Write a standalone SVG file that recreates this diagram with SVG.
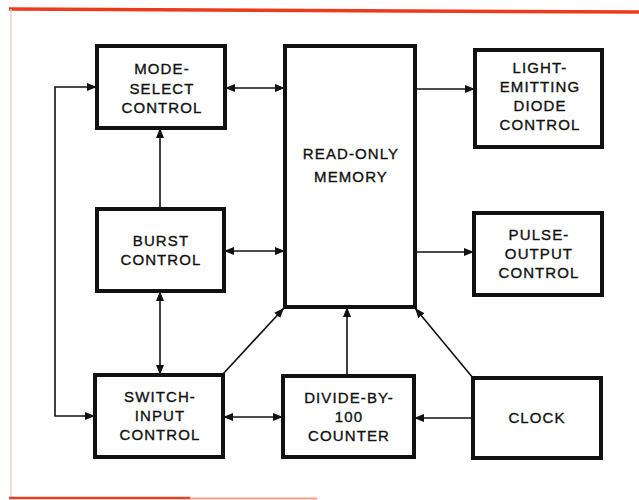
<svg xmlns="http://www.w3.org/2000/svg" width="639" height="500" viewBox="0 0 639 500">
<defs>
<marker id="ah" viewBox="0 0 10 10" refX="10" refY="5" markerWidth="10" markerHeight="10" markerUnits="userSpaceOnUse" orient="auto-start-reverse">
<path d="M0,1 L10,5 L0,9 z" fill="#111"/>
</marker>
<style>
.box{fill:#fff;stroke:#111;stroke-width:4}
.t{font-family:"Liberation Sans",Arial,sans-serif;font-size:15px;letter-spacing:1.1px;fill:#111;stroke:#111;stroke-width:0.35;text-anchor:middle}
.c{fill:none;stroke:#111;stroke-width:1.6}
</style>
</defs>
<rect width="639" height="500" fill="#fff"/>
<g id="frame">
<path d="M9,9 L639,12" stroke="#ec3a1c" stroke-width="3.5" fill="none"/>
<path d="M11,9 L11,498" stroke="#efc9b4" stroke-width="1.3" fill="none"/>
<path d="M9,498 L190,498" stroke="#e8431f" stroke-width="2.5" fill="none"/>
<path d="M190,498.5 L317,498.5" stroke="#f3a08a" stroke-width="2" fill="none"/>
</g>
<g id="connectors">
<path class="c" d="M225,88 L285,88" marker-start="url(#ah)" marker-end="url(#ah)"/>
<path class="c" d="M95,416 L55,416 L55,87 L97,87" marker-start="url(#ah)" marker-end="url(#ah)"/>
<path class="c" d="M160,209 L160,128" marker-end="url(#ah)"/>
<path class="c" d="M160,291 L160,375" marker-start="url(#ah)" marker-end="url(#ah)"/>
<path class="c" d="M224,251 L285,251" marker-start="url(#ah)" marker-end="url(#ah)"/>
<path class="c" d="M223,374 L284,308" marker-end="url(#ah)"/>
<path class="c" d="M223,417 L283,417" marker-start="url(#ah)" marker-end="url(#ah)"/>
<path class="c" d="M347,376 L347,307" marker-end="url(#ah)"/>
<path class="c" d="M473,378 L415,308" marker-end="url(#ah)"/>
<path class="c" d="M473,418 L414,418" marker-end="url(#ah)"/>
<path class="c" d="M415,89 L475,89" marker-end="url(#ah)"/>
<path class="c" d="M415,252 L474,252" marker-end="url(#ah)"/>
</g>
<g id="mode-select">
<rect class="box" x="97" y="46" width="128" height="82"/>
<text class="t" x="162" y="74">MODE-</text>
<text class="t" x="162" y="94">SELECT</text>
<text class="t" x="162" y="113">CONTROL</text>
</g>
<g id="rom">
<rect class="box" x="285" y="46" width="130" height="261"/>
<text class="t" x="351" y="159">READ-ONLY</text>
<text class="t" x="351" y="182">MEMORY</text>
</g>
<g id="led">
<rect class="box" x="475" y="50" width="127" height="97"/>
<text class="t" x="540" y="73">LIGHT-</text>
<text class="t" x="540" y="92">EMITTING</text>
<text class="t" x="540" y="111">DIODE</text>
<text class="t" x="540" y="130">CONTROL</text>
</g>
<g id="pulse">
<rect class="box" x="474" y="213" width="128" height="82"/>
<text class="t" x="539" y="240">PULSE-</text>
<text class="t" x="539" y="259">OUTPUT</text>
<text class="t" x="539" y="278">CONTROL</text>
</g>
<g id="burst">
<rect class="box" x="97" y="209" width="127" height="82"/>
<text class="t" x="161" y="246">BURST</text>
<text class="t" x="161" y="265">CONTROL</text>
</g>
<g id="switch">
<rect class="box" x="95" y="375" width="128" height="82"/>
<text class="t" x="160" y="402">SWITCH-</text>
<text class="t" x="160" y="421">INPUT</text>
<text class="t" x="160" y="440">CONTROL</text>
</g>
<g id="divide">
<rect class="box" x="283" y="376" width="131" height="81"/>
<text class="t" x="349" y="403">DIVIDE-BY-</text>
<text class="t" x="349" y="422">100</text>
<text class="t" x="349" y="441">COUNTER</text>
</g>
<g id="clock">
<rect class="box" x="473" y="378" width="128" height="80"/>
<text class="t" x="537" y="423">CLOCK</text>
</g>
</svg>
